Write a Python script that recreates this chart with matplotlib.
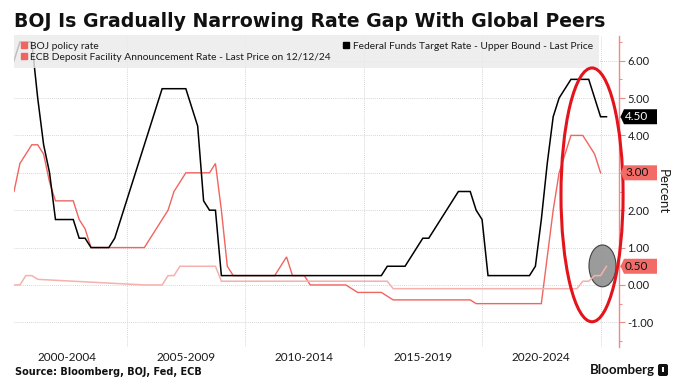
import numpy as np
import matplotlib
matplotlib.use("Agg")
import matplotlib.pyplot as plt
from matplotlib.lines import Line2D
from matplotlib.patches import Ellipse, Polygon, FancyBboxPatch
from matplotlib.transforms import IdentityTransform

plt.rcParams['font.family'] = ['Lato', 'DejaVu Sans']
plt.rcParams['axes.unicode_minus'] = False

# ---------------- data (quarter-end values, first = Mar 2000) ----------------
title = "BOJ Is Gradually Narrowing Rate Gap With Global Peers"
source = "Source: Bloomberg, BOJ, Fed, ECB"
first_quarter = 2000.25
step = 0.25

fed_label = "Federal Funds Target Rate - Upper Bound - Last Price"
ecb_label = "ECB Deposit Facility Announcement Rate - Last Price on 12/12/24"
boj_label = "BOJ policy rate"

fed = [6.0, 6.5, 6.5, 6.5,          # 2000
       5.0, 3.75, 3.0, 1.75,        # 2001
       1.75, 1.75, 1.75, 1.25,      # 2002
       1.25, 1.0, 1.0, 1.0,         # 2003
       1.0, 1.25, 1.75, 2.25,       # 2004
       2.75, 3.25, 3.75, 4.25,      # 2005
       4.75, 5.25, 5.25, 5.25,      # 2006
       5.25, 5.25, 4.75, 4.25,      # 2007
       2.25, 2.0, 2.0, 0.25,        # 2008
       0.25, 0.25, 0.25, 0.25,      # 2009
       0.25, 0.25, 0.25, 0.25,      # 2010
       0.25, 0.25, 0.25, 0.25,      # 2011
       0.25, 0.25, 0.25, 0.25,      # 2012
       0.25, 0.25, 0.25, 0.25,      # 2013
       0.25, 0.25, 0.25, 0.25,      # 2014
       0.25, 0.25, 0.25, 0.5,       # 2015
       0.5, 0.5, 0.5, 0.75,         # 2016
       1.0, 1.25, 1.25, 1.5,        # 2017
       1.75, 2.0, 2.25, 2.5,        # 2018
       2.5, 2.5, 2.0, 1.75,         # 2019
       0.25, 0.25, 0.25, 0.25,      # 2020
       0.25, 0.25, 0.25, 0.25,      # 2021
       0.5, 1.75, 3.25, 4.5,        # 2022
       5.0, 5.25, 5.5, 5.5,         # 2023
       5.5, 5.5, 5.0, 4.5,          # 2024
       4.5]                         # 2025

ecb = [2.5, 3.25, 3.5, 3.75,        # 2000
       3.75, 3.5, 2.75, 2.25,       # 2001
       2.25, 2.25, 2.25, 1.75,      # 2002
       1.5, 1.0, 1.0, 1.0,          # 2003
       1.0, 1.0, 1.0, 1.0,          # 2004
       1.0, 1.0, 1.0, 1.25,         # 2005
       1.5, 1.75, 2.0, 2.5,         # 2006
       2.75, 3.0, 3.0, 3.0,         # 2007
       3.0, 3.0, 3.25, 2.0,         # 2008
       0.5, 0.25, 0.25, 0.25,       # 2009
       0.25, 0.25, 0.25, 0.25,      # 2010
       0.25, 0.5, 0.75, 0.25,       # 2011
       0.25, 0.25, 0.0, 0.0,        # 2012
       0.0, 0.0, 0.0, 0.0,          # 2013
       0.0, -0.1, -0.2, -0.2,       # 2014
       -0.2, -0.2, -0.2, -0.3,      # 2015
       -0.4, -0.4, -0.4, -0.4,      # 2016
       -0.4, -0.4, -0.4, -0.4,      # 2017
       -0.4, -0.4, -0.4, -0.4,      # 2018
       -0.4, -0.4, -0.5, -0.5,      # 2019
       -0.5, -0.5, -0.5, -0.5,      # 2020
       -0.5, -0.5, -0.5, -0.5,      # 2021
       -0.5, -0.5, 0.75, 2.0,       # 2022
       3.0, 3.5, 4.0, 4.0,          # 2023
       4.0, 3.75, 3.5, 3.0]         # 2024

nan = float('nan')
boj = [0.0, 0.0, 0.25, 0.25,        # 2000
       0.15, nan, nan, nan,         # 2001
       nan, nan, nan, nan,          # 2002
       nan, nan, nan, nan,          # 2003
       nan, nan, nan, nan,          # 2004
       nan, nan, 0.0, 0.0,          # 2005
       0.0, 0.0, 0.25, 0.25,        # 2006
       0.5, 0.5, 0.5, 0.5,          # 2007
       0.5, 0.5, 0.5, 0.1,          # 2008
       0.1, 0.1, 0.1, 0.1,          # 2009
       0.1, 0.1, 0.1, 0.1,          # 2010
       0.1, 0.1, 0.1, 0.1,          # 2011
       0.1, 0.1, 0.1, 0.1,          # 2012
       0.1, 0.1, 0.1, 0.1,          # 2013
       0.1, 0.1, 0.1, 0.1,          # 2014
       0.1, 0.1, 0.1, 0.1,          # 2015
       -0.1, -0.1, -0.1, -0.1,      # 2016
       -0.1, -0.1, -0.1, -0.1,      # 2017
       -0.1, -0.1, -0.1, -0.1,      # 2018
       -0.1, -0.1, -0.1, -0.1,      # 2019
       -0.1, -0.1, -0.1, -0.1,      # 2020
       -0.1, -0.1, -0.1, -0.1,      # 2021
       -0.1, -0.1, -0.1, -0.1,      # 2022
       -0.1, -0.1, -0.1, -0.1,      # 2023
       0.1, 0.1, 0.25, 0.25,        # 2024
       0.5]                         # 2025

periods = ["2000-2004", "2005-2009", "2010-2014", "2015-2019", "2020-2024"]
period_starts = [2000, 2005, 2010, 2015, 2020]
period_bounds = [2005, 2010, 2015, 2020, 2025]
y_ticks = [-1, 0, 1, 2, 3, 4, 5, 6]

# ---------------- styling ----------------
BLACK = "#000000"
ECB_RED = "#ef6560"
BOJ_PINK = "#f4b1ad"
TAG_RED = "#f26b66"
SPINE_RED = "#ec8a88"
GRID = "#c9c9c9"

W, H = 692, 390
fig = plt.figure(figsize=(W / 100, H / 100), dpi=100)
ax = fig.add_axes([14 / W, 43 / H, 605 / W, 311 / H])

def qx(series):
    return first_quarter + step * np.arange(len(series))

x_fed, x_ecb, x_boj = qx(fed), qx(ecb), qx(boj)
boj_arr = np.array(boj, dtype=float)
ok = np.isfinite(boj_arr)

ax.plot(x_boj[ok], boj_arr[ok], color=BOJ_PINK, lw=1.1, zorder=3.5, solid_joinstyle='miter')
ax.plot(x_ecb, ecb, color=ECB_RED, lw=1.0, zorder=3, solid_joinstyle='miter')
ax.plot(x_fed, fed, color=BLACK, lw=1.1, zorder=3.2, solid_joinstyle='miter')

ax.set_xlim(first_quarter, first_quarter + 605 / 23.7)
ax.set_ylim(-1.66, 6.66)

# axes / ticks
for s in ["left", "top", "bottom"]:
    ax.spines[s].set_visible(False)
ax.spines["right"].set_color(SPINE_RED)
ax.spines["right"].set_linewidth(1.0)

tag_values = [fed[-1], ecb[-1], boj[-1]]
ax.yaxis.tick_right()
ax.set_yticks(y_ticks)
ax.set_yticklabels(["" if any(abs(v - t) < 1e-9 for t in tag_values) else f"{v:.2f}"
                    for v in y_ticks])
ax.set_yticks(np.arange(-1.5, 6.6, 0.5), minor=True)
ax.tick_params(axis='y', which='major', direction='out', length=4, width=0.8,
               color=SPINE_RED, pad=2, labelsize=8, labelcolor='#1a1a1a')
ax.tick_params(axis='y', which='minor', direction='out', length=2.5, width=0.7,
               color=SPINE_RED)

ax.set_xticks(period_bounds)
ax.set_xticklabels([])
ax.set_xticks([p + 2.5 for p in period_starts], minor=True)
ax.set_xticklabels(periods, minor=True)
ax.tick_params(axis='x', which='both', length=0)
ax.tick_params(axis='x', which='minor', pad=3.5, labelsize=8.5, labelcolor='#1a1a1a')

ax.grid(True, which='major', axis='both', linestyle=(0, (1, 1.5)), color=GRID, lw=0.6)
ax.set_axisbelow(True)

# legend
handles = [Line2D([], [], marker='s', ls='none', color=ECB_RED, markersize=5),
           Line2D([], [], marker='s', ls='none', color=ECB_RED, markersize=5),
           Line2D([], [], marker='s', ls='none', color=BLACK, markersize=5)]
leg = ax.legend(handles, [boj_label, ecb_label, fed_label], ncol=2, mode='expand',
                loc='upper left', bbox_to_anchor=(0, 0, 0.967, 1.003), borderaxespad=0,
                fontsize=7.4, frameon=True, fancybox=False, facecolor='#ebebeb',
                edgecolor='none', framealpha=0.82, handlelength=0.7, handletextpad=0.25,
                borderpad=0.62, labelspacing=0.22, columnspacing=0.5)
for t in leg.get_texts():
    t.set_color('#1a1a1a')
leg.set_zorder(6)

# annotation ellipses
red_oval = Ellipse((2024.64, 2.41), 2.62, 6.79, fill=False, ec='#e3141c', lw=2.2,
                   clip_on=False, zorder=8)
ax.add_patch(red_oval)
gray_oval = Ellipse((2025.08, 0.51), 1.14, 1.12, fc='#8a8a8a', ec='#2a2a2a', lw=0.8,
                    alpha=0.85, clip_on=False, zorder=3.3)
ax.add_patch(gray_oval)

# last-value tags on the right
def tag(value, fc, tc):
    x0, y0 = ax.transData.transform((ax.get_xlim()[1], value))
    h = 7.5
    verts = [(x0 + 1.5, y0), (x0 + 5, y0 + h), (x0 + 38, y0 + h),
             (x0 + 38, y0 - h), (x0 + 5, y0 - h)]
    fig.add_artist(Polygon(verts, closed=True, transform=IdentityTransform(),
                           fc=fc, ec='none', zorder=5))
    fig.add_artist(matplotlib.text.Text(x0 + 6, y0, f"{value:.2f}", transform=IdentityTransform(),
                                        color=tc, fontsize=8.5, va='center', ha='left',
                                        family=['Lato', 'DejaVu Sans'], zorder=6))

tag(fed[-1], BLACK, 'white')
tag(ecb[-1], TAG_RED, '#111111')
tag(boj[-1], TAG_RED, '#111111')

# texts
fig.text(14 / W, 1 - 27 / H, title, fontsize=13.6, fontweight='bold',
         family=['DejaVu Sans'], va='baseline', ha='left', color='#111111')
fig.text(663 / W, 1 - 192 / H, "Percent", rotation=270, ha='center', va='center',
         fontsize=9.5, color='#1a1a1a')
fig.text(15 / W, 1 - 372 / H, source, fontsize=7.0, fontweight='bold', va='center',
         ha='left', color='#111111', family=['DejaVu Sans'])
fig.text(655 / W, 1 - 370 / H, "Bloomberg", fontsize=9.5, fontweight='bold',
         va='center', ha='right', color='#111111')
fig.add_artist(FancyBboxPatch((658, H - 376), 10, 12, boxstyle='round,pad=0,rounding_size=2',
                              transform=IdentityTransform(), fc='#111111', ec='none'))
fig.add_artist(FancyBboxPatch((662, H - 372), 2, 5, boxstyle='square,pad=0',
                              transform=IdentityTransform(), fc='white', ec='none'))

fig.savefig("out.png", dpi=100)
